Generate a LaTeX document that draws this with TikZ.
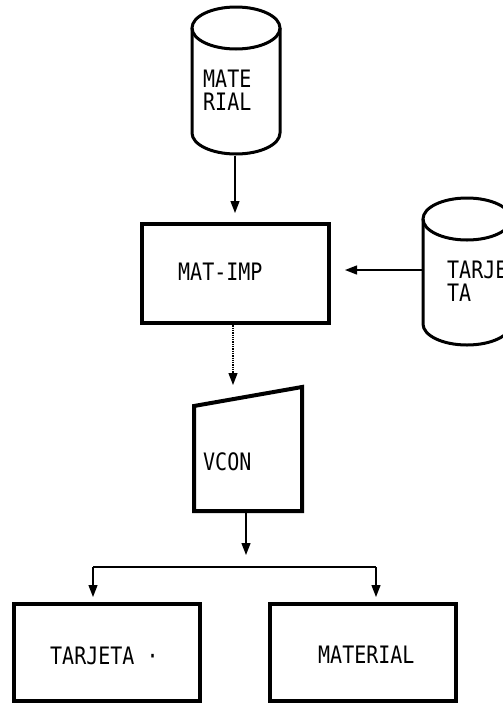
\documentclass[tikz,border=0pt]{standalone}
\usepackage{fontspec}
\newfontfamily\dmono{DejaVu Sans Mono}
\usetikzlibrary{arrows.meta}
\newcommand\stretchtxt[1]{\scalebox{1}[1.2]{#1}}
\begin{document}
\begin{tikzpicture}[x=1pt,y=-1pt,
  box/.style={draw, line width=4pt, inner sep=0pt, outer sep=0pt},
  cyl/.style={line width=3pt},
  conn/.style={line width=1.3pt},
  arr/.style={conn, -{Triangle[width=9pt,length=12pt]}},
  lbl/.style={anchor=base west, inner sep=0pt, font=\dmono\fontsize{20}{24}\selectfont}]
\useasboundingbox (0,0) rectangle (503,705);
\clip (0,0) rectangle (503,705);

% top cylinder MATERIAL
\draw[cyl] (236,28) ellipse [x radius=44, y radius=21];
\draw[cyl] (192,28) -- (192,133) arc[start angle=180, end angle=0, x radius=44, y radius=21] -- (280,28);
\node[lbl] (t1a) at (203,87) {\stretchtxt{MATE}};
\node[lbl] (t1b) at (203,110) {\stretchtxt{RIAL}};
\coordinate (c1bot) at (235,156);

% right cylinder TARJETA
\draw[cyl] (467,219) ellipse [x radius=44, y radius=21];
\draw[cyl] (423,219) -- (423,324) arc[start angle=180, end angle=0, x radius=44, y radius=21] -- (511,219);
\node[lbl] (t2a) at (447,278) {\stretchtxt{TARJE}};
\node[lbl] (t2b) at (447,301) {\stretchtxt{TA}};
\coordinate (c2left) at (423,270);

% process MAT-IMP
\node[box, minimum width=187pt, minimum height=99pt] (matimp) at (235.5,273.5) {};
\node[lbl] (tmatimp) at (178,280) {\stretchtxt{MAT-IMP}};

% display VCON
\draw[line width=4pt] (194,406) -- (302,387) -- (302,511) -- (194,511) -- cycle;
\coordinate (vtop) at (233,399);
\coordinate (vbot) at (246,511);
\node[lbl] (tvcon) at (203,470) {\stretchtxt{VCON}};

% output files
\node[box, minimum width=186pt, minimum height=97pt] (tarjeta) at (107,652.5) {};
\node[lbl] (ttarjeta) at (50,664) {\stretchtxt{TARJETA ·}};
\node[box, minimum width=186pt, minimum height=97pt] (material) at (363,652.5) {};
\node[lbl] (tmaterial) at (318,663) {\stretchtxt{MATERIAL}};

% connectors
\draw[arr, shorten >=11pt] (c1bot) -- (matimp.north -| c1bot);
\draw[arr, shorten >=16pt] (c2left) -- (matimp.east |- c2left);
\draw[arr, densely dotted, shorten >=14pt] (matimp.south -| vtop) -- (vtop);
\coordinate (junc) at (246,567);
\coordinate (jl) at (93,567);
\coordinate (jr) at (376,567);
\draw[arr, shorten >=12pt] (vbot) -- (junc);
\draw[conn] (jl) -- (jr);
\draw[arr, shorten >=7pt] (jl) -- (jl |- tarjeta.north);
\draw[arr, shorten >=7pt] (jr) -- (jr |- material.north);
\end{tikzpicture}
\end{document}
